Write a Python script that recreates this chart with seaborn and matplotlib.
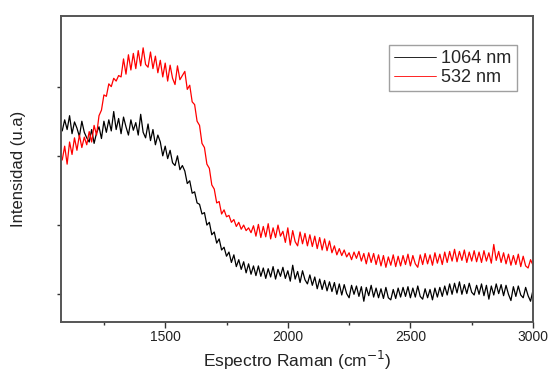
import numpy as np
import pandas as pd
import matplotlib
matplotlib.use("Agg")
import matplotlib.pyplot as plt
import seaborn as sns

# Raman shift grid (cm^-1), every 10 cm^-1 from 1080 to 3000
raman_shift = list(range(1080, 3001, 10))

# 1064 nm spectrum (arbitrary units)
int_1064 = [
    3.36, 3.52, 3.38, 3.58, 3.32, 3.49, 3.40, 3.28, 3.50, 3.34,
    3.26, 3.20, 3.38, 3.18, 3.33, 3.42, 3.25, 3.50, 3.34, 3.52,
    3.36, 3.64, 3.38, 3.54, 3.32, 3.56, 3.42, 3.30, 3.52, 3.37,
    3.48, 3.30, 3.60, 3.34, 3.26, 3.46, 3.22, 3.38, 3.16, 3.30,
    3.20, 3.00, 3.14, 2.96, 3.08, 2.90, 2.86, 3.00, 2.80, 2.86,
    2.78, 2.60, 2.64, 2.46, 2.48, 2.32, 2.30, 2.16, 2.18, 2.00,
    2.04, 1.86, 1.90, 1.74, 1.80, 1.64, 1.68, 1.55, 1.61, 1.46,
    1.57, 1.40, 1.50, 1.36, 1.47, 1.31, 1.44, 1.29, 1.41, 1.27,
    1.41, 1.26, 1.38, 1.23, 1.37, 1.25, 1.40, 1.22, 1.36, 1.26,
    1.39, 1.23, 1.34, 1.19, 1.42, 1.22, 1.33, 1.17, 1.34, 1.21,
    1.15, 1.28, 1.13, 1.25, 1.08, 1.22, 1.07, 1.20, 1.05, 1.18,
    1.04, 1.17, 1.00, 1.15, 0.99, 1.14, 1.01, 0.95, 1.13, 1.00,
    1.12, 0.97, 1.11, 0.90, 1.10, 0.98, 1.13, 0.96, 1.09, 0.95,
    1.08, 0.94, 1.10, 0.95, 0.92, 1.07, 0.94, 1.09, 0.96, 1.10,
    0.97, 1.11, 0.95, 1.09, 0.96, 1.12, 0.97, 0.93, 1.08, 0.95,
    1.07, 0.92, 1.09, 0.96, 1.10, 0.97, 1.12, 0.99, 1.15, 1.00,
    1.16, 1.02, 1.18, 1.00, 1.14, 1.01, 1.16, 1.03, 0.99, 1.13,
    1.00, 1.15, 0.98, 1.13, 0.93, 1.12, 0.99, 1.15, 1.01, 1.14,
    0.98, 1.13, 1.00, 0.91, 1.11, 0.97, 1.12, 0.99, 0.95, 1.10,
    0.98, 0.90, 1.06,
]

# 532 nm spectrum (arbitrary units)
int_532 = [
    2.94, 3.14, 2.88, 3.20, 3.02, 3.26, 3.08, 3.30, 3.12, 3.27,
    3.16, 3.35, 3.20, 3.44, 3.30, 3.58, 3.66, 3.88, 3.86, 4.04,
    4.00, 4.12, 4.08, 4.16, 4.14, 4.40, 4.18, 4.46, 4.24, 4.48,
    4.26, 4.52, 4.30, 4.56, 4.32, 4.28, 4.50, 4.26, 4.44, 4.20,
    4.38, 4.14, 4.34, 4.08, 4.31, 4.12, 4.03, 4.30, 4.10, 4.16,
    4.22, 3.96, 4.02, 3.78, 3.74, 3.50, 3.44, 3.18, 3.12, 2.88,
    2.82, 2.58, 2.52, 2.32, 2.34, 2.16, 2.22, 2.12, 2.14, 2.04,
    2.08, 1.98, 2.04, 1.94, 2.00, 1.92, 1.96, 1.89, 1.99, 1.84,
    2.01, 1.82, 1.98, 1.83, 2.02, 1.80, 1.96, 1.82, 2.00, 1.84,
    1.91, 1.75, 1.96, 1.71, 1.92, 1.76, 1.70, 1.90, 1.73, 1.88,
    1.70, 1.86, 1.69, 1.84, 1.66, 1.82, 1.64, 1.80, 1.63, 1.77,
    1.60, 1.70, 1.57, 1.66, 1.56, 1.64, 1.54, 1.60, 1.50, 1.61,
    1.52, 1.62, 1.48, 1.59, 1.44, 1.60, 1.46, 1.59, 1.43, 1.57,
    1.41, 1.56, 1.39, 1.54, 1.42, 1.57, 1.40, 1.55, 1.41, 1.56,
    1.43, 1.58, 1.41, 1.56, 1.44, 1.39, 1.57, 1.43, 1.59, 1.44,
    1.57, 1.42, 1.60, 1.45, 1.58, 1.43, 1.61, 1.46, 1.62, 1.48,
    1.65, 1.47, 1.62, 1.49, 1.64, 1.46, 1.61, 1.48, 1.63, 1.47,
    1.61, 1.46, 1.63, 1.48, 1.60, 1.45, 1.72, 1.49, 1.62, 1.46,
    1.60, 1.44, 1.58, 1.42, 1.56, 1.43, 1.58, 1.40, 1.55, 1.41,
    1.38, 1.50, 1.42,
]

series_names = ["1064 nm", "532 nm"]
series_colors = ["black", "red"]
x_ticks = [1500, 2000, 2500, 3000]
y_ticks = [1, 2, 3, 4]

df = pd.concat([
    pd.DataFrame({"shift": raman_shift, "intensity": int_1064, "laser": series_names[0]}),
    pd.DataFrame({"shift": raman_shift, "intensity": int_532, "laser": series_names[1]}),
], ignore_index=True)

sns.set_style("ticks")
plt.rcParams["font.family"] = ["Liberation Sans", "DejaVu Sans"]

fig = plt.figure(figsize=(5.49, 3.74), dpi=100)
ax = fig.add_axes([61 / 549, 52 / 374, 472 / 549, 306 / 374])

sns.lineplot(data=df, x="shift", y="intensity", hue="laser",
             palette=dict(zip(series_names, series_colors)),
             linewidth=0.9, ax=ax, legend=True)

ax.set_xlim(1075, 3000)
ax.set_ylim(0.6, 5.02)
ax.set_xticks(x_ticks)
ax.set_xticks([1250, 1750, 2250, 2750], minor=True)
ax.set_yticks(y_ticks)
ax.set_yticklabels([])
ax.tick_params(axis="x", which="major", direction="out", length=4, width=1, pad=1.5,
               labelsize=10, colors="#333333", labelcolor="#222222")
ax.tick_params(axis="x", which="minor", direction="out", length=2.5, width=1, colors="#333333")
ax.tick_params(axis="y", direction="out", length=3, width=1, colors="#333333")
for sp in ax.spines.values():
    sp.set_visible(True)
    sp.set_linewidth(1.4)
    sp.set_color("#555555")

ax.set_xlabel("Espectro Raman (cm$^{-1}$)", fontsize=12.5, color="#222222", labelpad=4)
ax.set_ylabel("Intensidad (u.a)", fontsize=12, color="#222222", labelpad=19)

handles, labels = ax.get_legend_handles_labels()
leg = ax.legend(handles, labels, loc="upper right", bbox_to_anchor=(0.966, 0.905),
                fontsize=13, frameon=True, fancybox=False, handlelength=2.3,
                handletextpad=0.3, borderpad=0.3, labelspacing=0.08,
                borderaxespad=0.0)
leg.get_frame().set_edgecolor("#888888")
leg.get_frame().set_linewidth(1.0)
for line in leg.get_lines():
    line.set_linewidth(0.6)

fig.savefig("out.png", dpi=100)
